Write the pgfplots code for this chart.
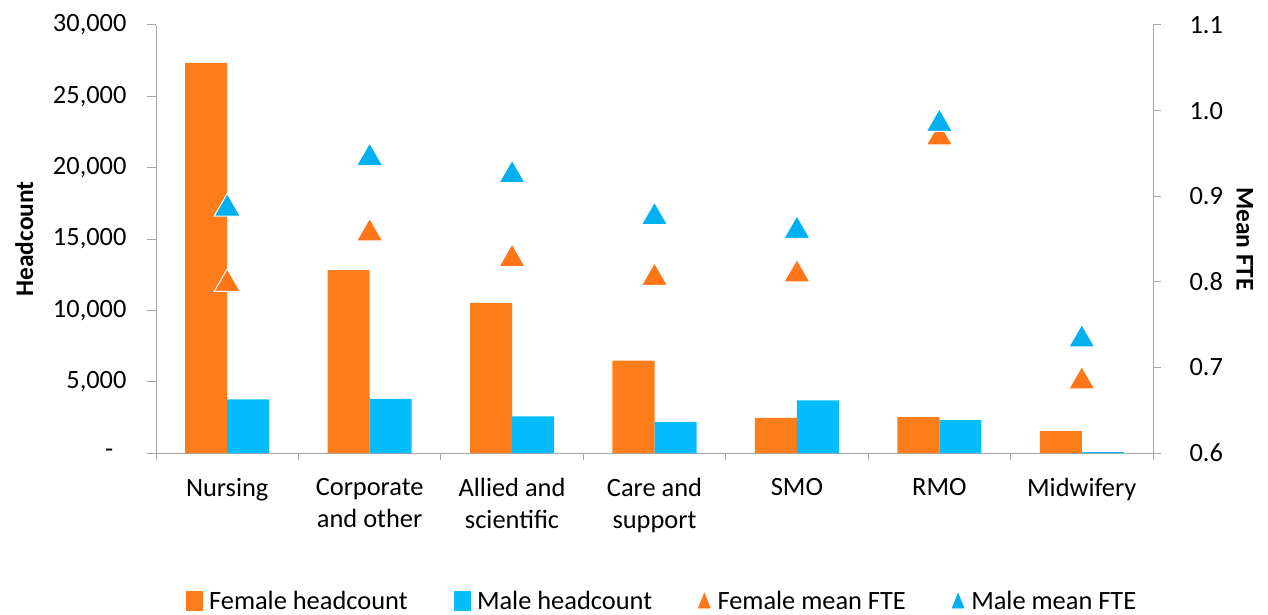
\documentclass[border=0pt]{standalone}
\usepackage{fontspec}
\setmainfont{Carlito}
\usepackage{pgfplots}
\usepackage{pgfplotstable}
\pgfplotsset{compat=1.18}
\usetikzlibrary{calc}
\definecolor{obar}{HTML}{FF7C1A}
\definecolor{cbar}{HTML}{05BDFD}
\definecolor{otri}{HTML}{FF7518}
\definecolor{ctri}{HTML}{00B0F0}
\definecolor{axgray}{HTML}{A6A6A6}

\pgfplotstableread{
x female male
0 27350 3760
1 12820 3800
2 10530 2570
3 6470 2190
4 2470 3690
5 2520 2310
6 1540 60
}\headcount

\pgfplotstableread{
x female male
0 0.802 0.890
1 0.861 0.949
2 0.831 0.929
3 0.809 0.880
4 0.813 0.864
5 0.973 0.989
6 0.688 0.737
}\fte

\begin{document}
\begin{tikzpicture}
\pgfplotsset{
  base/.style={
    scale only axis, width=997bp, height=428bp,
    xmin=-0.5, xmax=6.5,
    axis line style={axgray, line width=1bp},
    tick style={axgray, line width=1bp},
    tick align=outside,
    ticklabel style={font=\fontsize{26.5}{32}\selectfont, text=black},
    label style={font=\fontsize{25.5}{30}\selectfont\bfseries},
  }
}
\begin{axis}[base, name=ax,
  ymin=0, ymax=30000,
  scaled y ticks=false,
  axis y line*=left, axis x line*=bottom,
  ybar=0pt, bar width=0.295,
  xtick={0,...,6},
  xticklabels={Nursing,{Corporate\\and other},{Allied and\\scientific},{Care and\\support},SMO,RMO,Midwifery},
  xticklabel style={align=center, yshift=-13bp},
  major x tick style={draw=none},
  minor xtick={-0.5,0.5,1.5,2.5,3.5,4.5,5.5,6.5},
  minor tick length=7bp,
  major tick length=9bp,
  ytick={0,5000,10000,15000,20000,25000,30000},
  yticklabels={{-\hphantom{0}},{5,000},{10,000},{15,000},{20,000},{25,000},{30,000}},
  yticklabel style={xshift=-17bp},
  ylabel={Headcount},
  ylabel style={at={(axis description cs:-0.132,0.5)}, anchor=center},
]
\addplot[fill=obar, draw=none] table[x=x, y=female]{\headcount};
\addplot[fill=cbar, draw=none] table[x=x, y=male]{\headcount};
\end{axis}
\begin{axis}[base,
  ymin=0.6, ymax=1.1,
  axis y line*=right, axis x line=none,
  major tick length=8bp,
  ytick={0.6,0.7,0.8,0.9,1.0,1.1},
  yticklabel shift=25bp,
  yticklabel style={/pgf/number format/fixed, /pgf/number format/fixed zerofill,
    /pgf/number format/precision=1, /pgf/number format/assume math mode=true},
  ylabel={Mean FTE},
  ylabel style={at={(axis description cs:1.092,0.5)}, anchor=center, rotate=-180},
  legend columns=4,
  legend style={at={(axis description cs:0.5075,-0.346)}, anchor=center, draw=none, fill=none,
    font=\fontsize{26.5}{30}\selectfont,
    /tikz/every even column/.append style={column sep=44bp}},
]
\addlegendimage{legend image code/.code={\fill[obar] (0bp,-9bp) rectangle (16bp,10bp); \path (21bp,0bp);}}
\addlegendentry{Female headcount}
\addlegendimage{legend image code/.code={\fill[cbar] (0bp,-9bp) rectangle (16bp,10bp); \path (21bp,0bp);}}
\addlegendentry{Male headcount}
\addlegendimage{legend image code/.code={\fill[otri] (0bp,-7bp) -- (12bp,-7bp) -- (6bp,8bp) -- cycle; \path (17bp,0bp);}}
\addlegendentry{Female mean FTE}
\addlegendimage{legend image code/.code={\fill[ctri] (0bp,-7bp) -- (12bp,-7bp) -- (6bp,8bp) -- cycle; \path (17bp,0bp);}}
\addlegendentry{Male mean FTE}
\addplot[forget plot, only marks, mark=triangle*, mark size=15bp,
  mark options={fill=otri, draw=white, line width=1bp, yshift=-3.75bp}]
  table[x=x, y=female]{\fte};
\addplot[forget plot, only marks, mark=triangle*, mark size=15bp,
  mark options={fill=ctri, draw=white, line width=1bp, yshift=-3.75bp}]
  table[x=x, y=male]{\fte};
\end{axis}
\pgfresetboundingbox
\path[use as bounding box] ($(ax.south west)+(-156bp,-161bp)$) rectangle ($(ax.north east)+(115bp,25bp)$);
\end{tikzpicture}
\end{document}
